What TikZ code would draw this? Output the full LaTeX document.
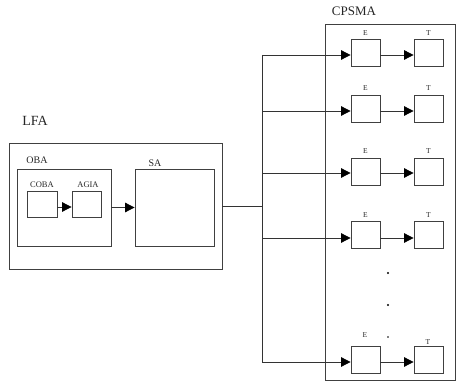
\documentclass[tikz,border=0pt]{standalone}
\usepackage{fontspec}
\setmainfont{Liberation Serif}
\usetikzlibrary{arrows.meta}
\begin{document}
\begin{tikzpicture}[x=1pt,y=-1pt,
  box/.style={draw=black!75,line width=0.8pt,rectangle,inner sep=0pt},
  small/.style={box,minimum width=29pt,minimum height=27pt},
  conn/.style={draw=black!80,line width=0.8pt},
  arr/.style={conn,-{Triangle[length=9.5pt,width=9.5pt,color=black]}},
  lbl/.style={inner sep=0pt,text=black!85},
  elbl/.style={lbl,font=\fontsize{7.5}{8}\selectfont},
  dot/.style={fill=black,circle,inner sep=0pt}]
\useasboundingbox (0,0) rectangle (456,385);

% Left part
\node[box,minimum width=213pt,minimum height=126pt] (lfa) at (115.5,206) {};
\node[lbl,font=\fontsize{14}{16}\selectfont] (lfalbl) at (35,121) {LFA};
\node[box,minimum width=94pt,minimum height=77pt] (oba) at (64,207.5) {};
\node[lbl,font=\fontsize{10}{12}\selectfont] (obalbl) at (37,160) {OBA};
\node[small,minimum width=30pt,minimum height=26pt] (coba) at (42,204) {};
\node[lbl,font=\fontsize{8.5}{10}\selectfont] (cobalbl) at (42,185) {COBA};
\node[small,minimum width=29pt,minimum height=26pt] (agia) at (86.5,204) {};
\node[lbl,font=\fontsize{8.5}{10}\selectfont] (agialbl) at (88,185) {AGIA};
\node[box,minimum width=79pt,minimum height=77pt] (sa) at (174.5,207.5) {};
\node[lbl,font=\fontsize{10}{12}\selectfont] (salbl) at (155,163) {SA};

\draw[arr] ([yshift=-3pt]coba.east) -- ([yshift=-3pt]agia.west);
\draw[arr] (oba.east) -- (sa.west);

% Right part
\node[box,minimum width=130pt,minimum height=356pt] (cpsma) at (390,202) {};
\node[lbl,font=\fontsize{13}{15}\selectfont] (cpsmalbl) at (354,11) {CPSMA};

\coordinate (bustop) at (262,55);
\coordinate (busbot) at (262,362);
\coordinate (busjoin) at (262,206);
\draw[conn] (lfa.east) -- (busjoin);
\draw[conn] (bustop) -- (busbot);

\foreach \i/\yc/\by in {1/53/55, 2/108.5/111, 3/171.5/173, 4/235/238, 5/359.5/362}{
  \node[small] (e\i) at (365.5,\yc) {};
  \node[small] (t\i) at (428.5,\yc) {};
  \coordinate (b\i) at (262,\by);
  \draw[arr] (b\i) -- (b\i -| e\i.west);
  \draw[arr] (b\i -| e\i.east) -- (b\i -| t\i.west);
}
\foreach \i in {1,2,3,4}{
  \node[elbl,above=3.5pt] (el\i) at (e\i.north) {E};
  \node[elbl,above=3.5pt] (tl\i) at (t\i.north) {T};
}
\node[elbl] (el5) at (365,335) {E};
\node[elbl] (tl5) at (428,342.5) {T};

\node[dot,minimum size=2.4pt] (d1) at (388,273) {};
\node[dot,minimum size=2.4pt] (d2) at (388,305) {};
\node[dot,minimum size=1.6pt] (d3) at (388,337) {};
\end{tikzpicture}
\end{document}
